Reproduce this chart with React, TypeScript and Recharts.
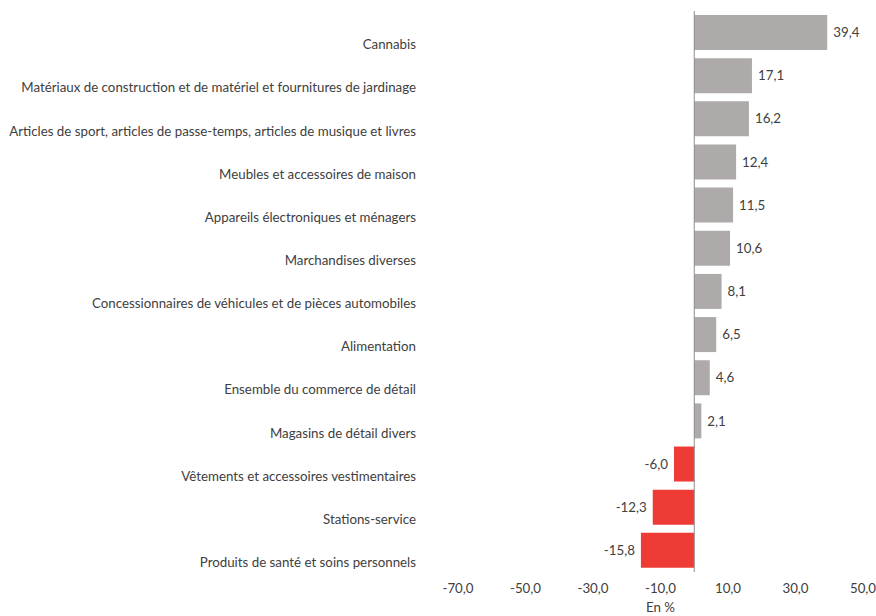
import React from 'react';
import { BarChart, Bar, XAxis, YAxis, Cell, LabelList, ReferenceLine } from 'recharts';

// Variation en % par sous-secteur du commerce de détail
const categories = [
  'Cannabis',
  'Matériaux de construction et de matériel et fournitures de jardinage',
  'Articles de sport, articles de passe-temps, articles de musique et livres',
  'Meubles et accessoires de maison',
  'Appareils électroniques et ménagers',
  'Marchandises diverses',
  'Concessionnaires de véhicules et de pièces automobiles',
  'Alimentation',
  'Ensemble du commerce de détail',
  'Magasins de détail divers',
  'Vêtements et accessoires vestimentaires',
  'Stations-service',
  'Produits de santé et soins personnels',
];
const values = [39.4, 17.1, 16.2, 12.4, 11.5, 10.6, 8.1, 6.5, 4.6, 2.1, -6.0, -12.3, -15.8];
const xTicks = [-70, -50, -30, -10, 10, 30, 50];

const data = categories.map((name, i) => ({ name, value: values[i] }));

const GRAY = '#AEAAAA';
const RED = '#EE3B36';
const TEXT = '#404040';
const FONT = 'Lato, "Open Sans", sans-serif';
const SIZE = 13.3;

const fmt = (v: number) => v.toFixed(1).replace('.', ',');

const ValueLabel = (props: any) => {
  const { x, y, width, height, value } = props;
  const left = Math.min(x, x + width);
  const right = Math.max(x, x + width);
  const neg = value < 0;
  return (
    <text
      x={neg ? left - 6 : right + 6}
      y={y + height / 2}
      dy="0.35em"
      textAnchor={neg ? 'end' : 'start'}
      fill={TEXT}
      fontSize={SIZE}
      fontFamily={FONT}
    >
      {fmt(value)}
    </text>
  );
};

// category labels sit a bit below the bar centre, like the original
const CategoryTick = (props: any) => {
  const { x, y, payload } = props;
  return (
    <text
      x={x}
      y={y + 12}
      dy="0.35em"
      textAnchor="end"
      fill={TEXT}
      fontSize={SIZE}
      fontFamily={FONT}
    >
      {payload.value}
    </text>
  );
};

const App: React.FC = () => {
  return (
    <div style={{ position: 'absolute', left: 0, top: 0, background: '#fff' }}>
      <BarChart
        width={876}
        height={616}
        data={data}
        layout="vertical"
        margin={{ top: 11, right: 13, bottom: 0, left: 0 }}
      >
        <XAxis
          type="number"
          domain={[-70, 50]}
          ticks={xTicks}
          tickFormatter={fmt}
          axisLine={false}
          tickLine={false}
          height={44}
          tickMargin={6}
          tick={{ fill: TEXT, fontSize: SIZE, fontFamily: FONT }}
          label={{ value: 'En %', position: 'insideBottom', offset: 4, fill: TEXT, fontSize: SIZE, fontFamily: FONT }}
        />
        <YAxis
          type="category"
          dataKey="name"
          width={458}
          axisLine={false}
          tickLine={false}
          tickSize={0}
          tickMargin={42}
          interval={0}
          tick={<CategoryTick />}
        />
        <Bar dataKey="value" barSize={35} isAnimationActive={false}>
          {data.map((d, i) => (
            <Cell key={`cell-${i}`} fill={d.value < 0 ? RED : GRAY} />
          ))}
          <LabelList dataKey="value" content={ValueLabel} />
        </Bar>
        <ReferenceLine x={0} stroke="#8C8C8C" strokeWidth={1} />
      </BarChart>
    </div>
  );
};

export default App;
